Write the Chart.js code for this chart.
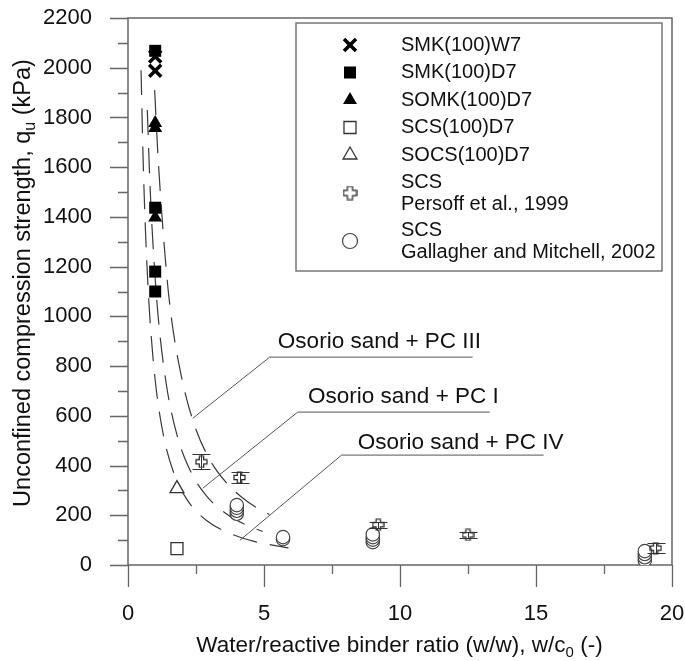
<!DOCTYPE html>
<html lang="en">
<head>
<meta charset="UTF-8">
<title>Unconfined compression strength vs w/c0</title>
<script src="https://cdn.jsdelivr.net/npm/chart.js"></script>
<style>
  html, body { margin: 0; padding: 0; background: #fff; }
</style>
</head>
<body>
<canvas id="qu" width="685" height="661"></canvas>
<script>
// measured series (x = w/c0, y = qu in kPa)
const smkW7X = [1.0, 1.0];
const smkW7Y = [2045, 1988];
const smkD7X = [1.0, 1.0, 1.0, 1.0];
const smkD7Y = [2068, 1437, 1180, 1100];
const somkD7X = [1.0, 1.0, 1.0];
const somkD7Y = [1778, 1758, 1398];
const scsD7X = [1.8];
const scsD7Y = [66];
const socsD7X = [1.8];
const socsD7Y = [307];

// Persoff et al. (1999) with min/max range
const persoffX = [2.7, 4.1, 9.2, 12.5, 19.4];
const persoffY = [415, 352, 162, 121, 68];
const persoffLo = [385, 330, 150, 110, 47];
const persoffHi = [446, 375, 174, 133, 89];

// Gallagher and Mitchell (2002), low to high in each group
const gallagherX = [4.0, 4.0, 4.0, 4.0, 5.7, 5.7, 9.0, 9.0, 9.0, 9.0, 19.0, 19.0, 19.0, 19.0];
const gallagherY = [206, 218, 230, 241, 104, 112, 92, 102, 112, 123, 19, 31, 44, 56];

// trend curves for Osorio sand
const pc3W = [0.98, 1.1, 1.4, 1.6, 2.0, 2.45, 3.0, 3.6, 4.4, 5.2];
const pc3Q = [1910, 1650, 1195, 990, 740, 560, 425, 333, 254, 203];
const pc1W = [0.71, 0.8, 0.9, 1.1, 1.4, 1.8, 2.3, 2.9, 3.6, 4.3, 4.95];
const pc1Q = [1830, 1550, 1325, 1010, 733, 523, 377, 276, 207, 163, 135];
const pc4W = [0.48, 0.55, 0.62, 0.7, 0.8, 1.0, 1.3, 1.7, 2.2, 2.9, 3.7, 4.6, 5.9];
const pc4Q = [1990, 1655, 1410, 1198, 1001, 743, 523, 365, 258, 178, 129, 96, 69];

const xTicksMajor = [0, 5, 10, 15, 20];

const FONT = '"Liberation Sans", Arial, Helvetica, sans-serif';
const INK = '#111';
const AXIS = '#666';

function pts(xs, ys) {
  return xs.map((x, i) => ({ x: x, y: ys[i] }));
}

// open "+" marker used for the Persoff data
function plusMarker(size, arm) {
  const c = document.createElement('canvas');
  c.width = size + 2;
  c.height = size + 2;
  const g = c.getContext('2d');
  const m = (size + 2) / 2, a = arm, lo = 1, hi = size + 1;
  g.beginPath();
  g.moveTo(m - a, lo); g.lineTo(m + a, lo); g.lineTo(m + a, m - a);
  g.lineTo(hi, m - a); g.lineTo(hi, m + a); g.lineTo(m + a, m + a);
  g.lineTo(m + a, hi); g.lineTo(m - a, hi); g.lineTo(m - a, m + a);
  g.lineTo(lo, m + a); g.lineTo(lo, m - a); g.lineTo(m - a, m - a);
  g.closePath();
  g.strokeStyle = '#222';
  g.lineWidth = 1.2;
  g.stroke();
  return c;
}

const plusSmall = plusMarker(11, 2.2);
const plusLegend = plusMarker(13, 2.6);

const styles = {
  w7:   { pointStyle: 'crossRot', radius: 8.5, borderWidth: 3.5, fill: '#000', stroke: '#000' },
  d7:   { pointStyle: 'rect', radius: 8.5, borderWidth: 0, fill: '#000', stroke: '#000' },
  somk: { pointStyle: 'triangle', radius: 8, borderWidth: 0, fill: '#000', stroke: '#000' },
  scs:  { pointStyle: 'rect', radius: 8.5, borderWidth: 1.3, fill: '#fff', stroke: '#333' },
  socs: { pointStyle: 'triangle', radius: 8, borderWidth: 1.3, fill: '#fff', stroke: '#333' },
  pers: { pointStyle: plusSmall, radius: 6, borderWidth: 1, fill: 'rgba(0,0,0,0)', stroke: '#222' },
  gal:  { pointStyle: 'circle', radius: 6.7, borderWidth: 1.2, fill: '#fff', stroke: '#444' }
};

// lower "order" is painted last (on top)
function markerSet(label, data, st, order) {
  return {
    label: label,
    data: data,
    order: order,
    pointStyle: st.pointStyle,
    pointRadius: st.radius,
    pointHoverRadius: st.radius,
    pointBorderWidth: st.borderWidth,
    pointBackgroundColor: st.fill,
    pointBorderColor: st.stroke,
    showLine: false
  };
}

function curveSet(label, data) {
  return {
    label: label,
    data: data,
    showLine: true,
    pointRadius: 0,
    borderColor: '#3a3a3a',
    borderWidth: 1.2,
    borderDash: [25, 13],
    cubicInterpolationMode: 'monotone',
    fill: false,
    order: 10
  };
}

// legend rows drawn inside the framed box
const legendRows = [
  { lines: ['SMK(100)W7'], st: styles.w7 },
  { lines: ['SMK(100)D7'], st: styles.d7 },
  { lines: ['SOMK(100)D7'], st: styles.somk },
  { lines: ['SCS(100)D7'], st: styles.scs },
  { lines: ['SOCS(100)D7'], st: styles.socs },
  { lines: ['SCS', 'Persoff et al., 1999'], st: Object.assign({}, styles.pers, { pointStyle: plusLegend }) },
  { lines: ['SCS', 'Gallagher and Mitchell, 2002'], st: Object.assign({}, styles.gal, { radius: 7.5 }) }
];

// labelled leader lines pointing at the curves (text anchored at its baseline)
const notes = [
  { text: 'Osorio sand + PC III', tx: 5.51, ty: 872, tip: [2.38, 590], knee: [5.21, 836], end: [12.67, 836] },
  { text: 'Osorio sand + PC I', tx: 6.62, ty: 650, tip: [2.75, 309], knee: [6.24, 615], end: [13.3, 615] },
  { text: 'Osorio sand + PC IV', tx: 8.45, ty: 468, tip: [4.11, 99], knee: [7.85, 442], end: [15.28, 442] }
];

function drawMarker(ctx, st, x, y) {
  ctx.save();
  ctx.fillStyle = st.fill;
  ctx.strokeStyle = st.stroke;
  ctx.lineWidth = st.borderWidth;
  Chart.helpers.drawPoint(ctx, { pointStyle: st.pointStyle, radius: st.radius, rotation: 0, borderWidth: st.borderWidth }, x, y);
  ctx.restore();
}

// text with subscript pieces, e.g. [['q'], ['u', true]]
function richText(ctx, parts, x, y, size, align) {
  const subSize = Math.round(size * 0.66);
  let total = 0;
  parts.forEach(p => {
    ctx.font = (p[1] ? subSize : size) + 'px ' + FONT;
    total += ctx.measureText(p[0]).width;
  });
  let cx = align === 'center' ? x - total / 2 : x;
  parts.forEach(p => {
    ctx.font = (p[1] ? subSize : size) + 'px ' + FONT;
    ctx.fillText(p[0], cx, p[1] ? y + size * 0.2 : y);
    cx += ctx.measureText(p[0]).width;
  });
}

const framePlugin = {
  id: 'frame',
  beforeDatasetsDraw(chart) {
    const { ctx, chartArea: a, scales: { x, y } } = chart;
    ctx.save();
    ctx.strokeStyle = AXIS;
    ctx.lineWidth = 1.5;
    ctx.strokeRect(a.left, a.top, a.right - a.left, a.bottom - a.top);
    ctx.lineWidth = 1.3;
    ctx.beginPath();
    for (let v = 0; v <= 2200; v += 100) {
      const py = Math.round(y.getPixelForValue(v)) + 0.5;
      const len = v % 200 === 0 ? 18 : 10;
      ctx.moveTo(a.left - len, py);
      ctx.lineTo(a.left, py);
    }
    for (let u = 0; u <= 20; u += 2.5) {
      const px = Math.round(x.getPixelForValue(u)) + 0.5;
      const len = xTicksMajor.includes(u) ? 22 : 9;
      ctx.moveTo(px, a.bottom);
      ctx.lineTo(px, a.bottom + len);
    }
    ctx.stroke();
    ctx.restore();
  },
  afterDatasetsDraw(chart) {
    const { ctx, scales: { x, y } } = chart;
    ctx.save();
    // min/max bars on the Persoff points
    ctx.strokeStyle = '#333';
    ctx.lineWidth = 1;
    ctx.beginPath();
    persoffX.forEach((w, i) => {
      const px = Math.round(x.getPixelForValue(w)) + 0.5;
      const y1 = Math.round(y.getPixelForValue(persoffLo[i])) + 0.5;
      const y2 = Math.round(y.getPixelForValue(persoffHi[i])) + 0.5;
      ctx.moveTo(px, y1); ctx.lineTo(px, y2);
      ctx.moveTo(px - 9, y1); ctx.lineTo(px + 9, y1);
      ctx.moveTo(px - 9, y2); ctx.lineTo(px + 9, y2);
    });
    ctx.stroke();

    // leader lines and their labels
    ctx.strokeStyle = '#555';
    ctx.lineWidth = 1;
    ctx.fillStyle = INK;
    ctx.font = '22.5px ' + FONT;
    ctx.textBaseline = 'alphabetic';
    notes.forEach(n => {
      ctx.beginPath();
      ctx.moveTo(x.getPixelForValue(n.tip[0]), y.getPixelForValue(n.tip[1]));
      ctx.lineTo(x.getPixelForValue(n.knee[0]), y.getPixelForValue(n.knee[1]));
      ctx.lineTo(x.getPixelForValue(n.end[0]), y.getPixelForValue(n.end[1]));
      ctx.stroke();
      ctx.fillText(n.text, x.getPixelForValue(n.tx), y.getPixelForValue(n.ty));
    });
    ctx.restore();
  },
  afterDraw(chart) {
    const { ctx } = chart;
    ctx.save();
    // legend box
    ctx.fillStyle = '#fff';
    ctx.fillRect(296, 23, 366, 248);
    ctx.strokeStyle = '#777';
    ctx.lineWidth = 1.5;
    ctx.strokeRect(296, 23, 366, 248);
    ctx.fillStyle = INK;
    ctx.font = '20px ' + FONT;
    ctx.textBaseline = 'middle';
    let rowY = 45;
    legendRows.forEach(r => {
      if (r.lines.length === 1) {
        drawMarker(ctx, r.st, 350, rowY);
        ctx.fillStyle = INK;
        ctx.fillText(r.lines[0], 401, rowY);
        rowY += 27.5;
      } else {
        const y0 = rowY - 0.5;
        drawMarker(ctx, r.st, 350, y0 + 11);
        ctx.fillStyle = INK;
        ctx.fillText(r.lines[0], 401, y0);
        ctx.fillText(r.lines[1], 401, y0 + 22);
        rowY += 48;
      }
    });

    // axis titles
    ctx.fillStyle = INK;
    ctx.textBaseline = 'alphabetic';
    richText(ctx, [['Water/reactive binder ratio (w/w), w/c'], ['0', true], [' (-)']], 399.5, 652, 22.5, 'center');
    ctx.translate(30, 283);
    ctx.rotate(-Math.PI / 2);
    richText(ctx, [['Unconfined compression strength, q'], ['u', true], [' (kPa)']], 0, 0, 23.5, 'center');
    ctx.restore();
  }
};

new Chart(document.getElementById('qu'), {
  type: 'scatter',
  data: {
    datasets: [
      markerSet('SMK(100)W7', pts(smkW7X, smkW7Y), styles.w7, 2),
      markerSet('SMK(100)D7', pts(smkD7X, smkD7Y), styles.d7, 1),
      markerSet('SOMK(100)D7', pts(somkD7X, somkD7Y), styles.somk, 3),
      markerSet('SCS(100)D7', pts(scsD7X, scsD7Y), styles.scs, 4),
      markerSet('SOCS(100)D7', pts(socsD7X, socsD7Y), styles.socs, 4),
      markerSet('SCS Persoff et al., 1999', pts(persoffX, persoffY), styles.pers, 4),
      markerSet('SCS Gallagher and Mitchell, 2002', pts(gallagherX, gallagherY), styles.gal, 4),
      curveSet('Osorio sand + PC III', pts(pc3W, pc3Q)),
      curveSet('Osorio sand + PC I', pts(pc1W, pc1Q)),
      curveSet('Osorio sand + PC IV', pts(pc4W, pc4Q))
    ]
  },
  options: {
    responsive: false,
    animation: false,
    devicePixelRatio: 1,
    layout: { padding: { left: 0, right: 13, top: 18, bottom: 0 } },
    plugins: {
      legend: { display: false },
      tooltip: { enabled: false }
    },
    scales: {
      x: {
        type: 'linear',
        min: 0,
        max: 20,
        grid: { display: false },
        border: { display: false },
        ticks: {
          stepSize: 5,
          padding: 28,
          maxRotation: 0,
          color: INK,
          font: { family: FONT, size: 22 },
          callback: v => String(v)
        },
        afterFit(scale) {
          scale.height = 96;
          scale.paddingLeft = 0;
          scale.paddingRight = 0;
        }
      },
      y: {
        type: 'linear',
        min: 0,
        max: 2200,
        grid: { display: false },
        border: { display: false },
        ticks: {
          stepSize: 200,
          padding: 28,
          color: INK,
          font: { family: FONT, size: 22 },
          callback: v => String(v)
        },
        afterFit(scale) {
          scale.width = 128;
          scale.paddingTop = 0;
          scale.paddingBottom = 0;
        }
      }
    }
  },
  plugins: [framePlugin]
});
</script>
</body>
</html>
